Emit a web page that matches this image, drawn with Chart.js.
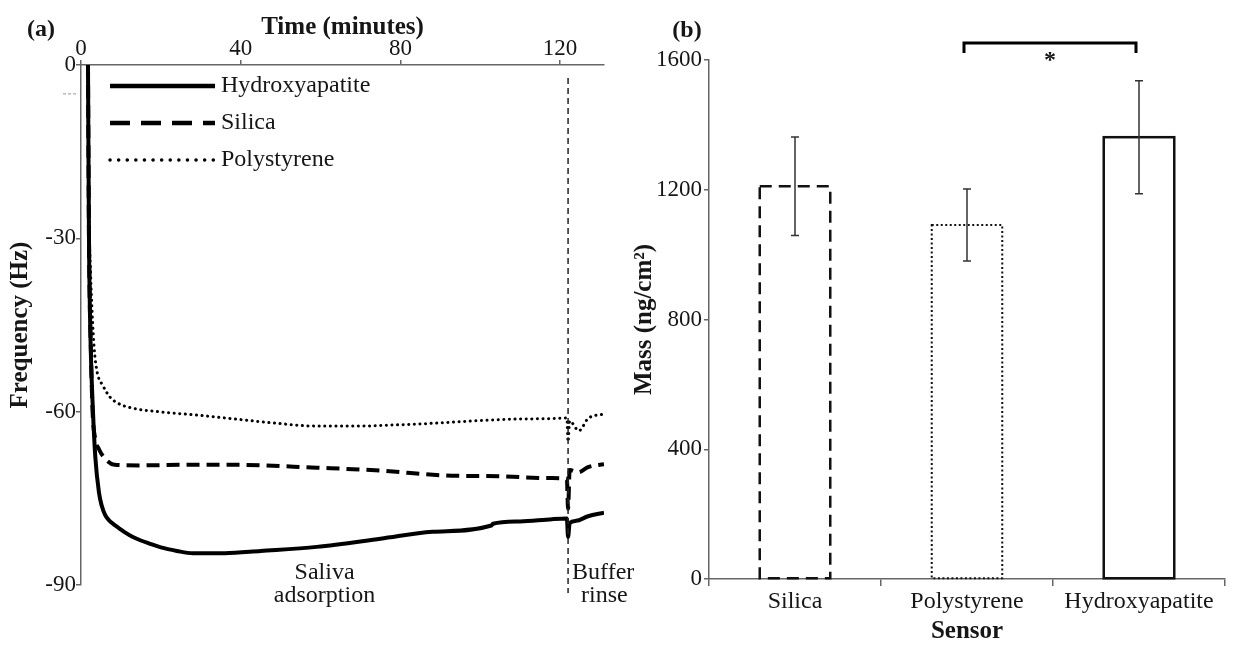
<!DOCTYPE html>
<html>
<head>
<meta charset="utf-8">
<script src="https://cdn.jsdelivr.net/npm/chart.js@4.4.1/dist/chart.umd.min.js"></script>
<style>
  body { margin: 0; background: #fff; }
  #wrap { position: relative; width: 1236px; height: 646px; overflow: hidden; }
  canvas { position: absolute; top: 0; }
  #freq { left: 0; width: 660px; height: 646px; }
  #mass { left: 620px; width: 616px; height: 646px; }
</style>
</head>
<body>
<div id="wrap">
  <canvas id="freq" width="660" height="646"></canvas>
  <canvas id="mass" width="616" height="646"></canvas>
</div>
<script>
// (a) frequency shift vs time (minutes, Hz)
const hydroxyTime = [1.75, 2.0, 2.4, 3.0, 3.6, 4.5, 5.2, 6, 7, 8.2, 9.4, 11, 13, 15, 17, 20, 24, 28, 36, 45, 59, 75, 88, 102.8, 103.2, 110, 118, 121.7, 122, 122.4, 124, 127, 131];
const hydroxyFreq = [0, -30, -48, -60, -68, -74, -76.3, -77.8, -78.8, -79.5, -80.1, -80.9, -81.7, -82.3, -82.8, -83.5, -84.1, -84.5, -84.5, -84.1, -83.4, -82, -80.8, -79.7, -79.4, -79, -78.6, -78.5, -81.7, -79.3, -78.9, -78.1, -77.5];

const silicaTime = [1.75, 2.0, 2.5, 2.9, 3.5, 4.5, 6.4, 8.4, 15, 25, 39, 59, 75, 90, 105, 118, 121.7, 122, 122.4, 124.5, 127, 131];
const silicaFreq = [0, -30, -50, -60, -64.5, -66.5, -68.4, -69.2, -69.3, -69.2, -69.2, -69.7, -70.2, -71, -71.2, -71.5, -71.6, -76.8, -70.1, -70.5, -69.6, -69.1];

const polyTime = [1.75, 2.0, 2.4, 2.8, 3.3, 4, 5.5, 7.3, 9.4, 13, 19.3, 29.2, 39, 48.9, 58.8, 68.7, 78.6, 88.4, 98.3, 108.2, 118, 121.7, 122, 122.4, 124.7, 127, 131];
const polyFreq = [0, -25, -36, -43, -49, -53, -55.5, -57.5, -58.6, -59.4, -60, -60.6, -61.3, -62, -62.5, -62.5, -62.3, -62, -61.6, -61.3, -61.2, -61.1, -65.2, -61.6, -63.3, -61.2, -60.4];

const rinseStart = 122;

// (b) adsorbed mass per sensor (ng/cm2), mean and error
const sensors = ['Silica', 'Polystyrene', 'Hydroxyapatite'];
const massMean = [1211, 1091, 1362];
const massErr = [152, 111, 174];

const serif = "'Liberation Serif', 'Times New Roman', serif";
Chart.defaults.font.family = serif;
Chart.defaults.color = '#161616';

const pts = (t, f) => t.map((x, i) => ({ x: x, y: f[i] }));

const axisLine = { color: '#666', width: 1.5 };
const tickGrid = (len) => ({ drawOnChartArea: false, tickLength: len, color: '#666', lineWidth: 1.5 });

// legend samples use a longer dash than the traces
const legendDash = [[], [20, 11], [0.1, 8.5]];

const freqExtras = {
  id: 'freqExtras',
  afterDraw(chart) {
    const { ctx, chartArea: a, scales: { x, y } } = chart;
    ctx.save();

    // start of buffer rinse
    const xr = x.getPixelForValue(rinseStart);
    ctx.strokeStyle = '#222';
    ctx.lineWidth = 1.5;
    ctx.setLineDash([6, 4]);
    ctx.beginPath();
    ctx.moveTo(xr, a.top + 13);
    ctx.lineTo(xr, a.bottom + 8);
    ctx.stroke();

    // small grey mark left of the axis
    const ym = y.getPixelForValue(-5);
    ctx.strokeStyle = '#999';
    ctx.lineWidth = 1;
    ctx.setLineDash([3, 2]);
    ctx.beginPath();
    ctx.moveTo(a.left - 18, ym);
    ctx.lineTo(a.left - 5, ym);
    ctx.stroke();
    ctx.setLineDash([]);

    // phase labels
    ctx.fillStyle = '#161616';
    ctx.font = '24px ' + serif;
    ctx.textBaseline = 'middle';
    ctx.textAlign = 'center';
    const xs = x.getPixelForValue(61);
    ctx.fillText('Saliva', xs, a.bottom - 12);
    ctx.fillText('adsorption', xs, a.bottom + 11);
    ctx.textAlign = 'left';
    ctx.fillText('Buffer', xr + 4, a.bottom - 12);
    ctx.fillText('rinse', xr + 13, a.bottom + 11);

    // legend
    chart.data.datasets.forEach((ds, i) => {
      const ly = a.top + 21 + i * 37;
      ctx.strokeStyle = ds.borderColor;
      ctx.lineWidth = ds.borderWidth + 0.5;
      ctx.lineCap = ds.borderCapStyle || 'butt';
      ctx.setLineDash(legendDash[i]);
      ctx.beginPath();
      ctx.moveTo(a.left + 29, ly);
      ctx.lineTo(a.left + 134, ly);
      ctx.stroke();
      ctx.fillText(ds.label, a.left + 140, ly);
    });

    ctx.font = 'bold 24px ' + serif;
    ctx.textAlign = 'center';
    ctx.fillText('(a)', 41, 30);
    ctx.restore();
  }
};

new Chart(document.getElementById('freq'), {
  type: 'line',
  data: {
    datasets: [
      { label: 'Hydroxyapatite', data: pts(hydroxyTime, hydroxyFreq), borderColor: '#000', borderWidth: 4 },
      { label: 'Silica', data: pts(silicaTime, silicaFreq), borderColor: '#000', borderWidth: 4, borderDash: [13, 7] },
      { label: 'Polystyrene', data: pts(polyTime, polyFreq), borderColor: '#000', borderWidth: 3, borderDash: [0.1, 5.5], borderCapStyle: 'round' }
    ]
  },
  options: {
    responsive: false,
    animation: false,
    devicePixelRatio: 1,
    layout: { padding: { left: 0, right: 56, top: 0, bottom: 61 } },
    elements: {
      point: { radius: 0 },
      line: { cubicInterpolationMode: 'monotone', fill: false }
    },
    plugins: { legend: { display: false }, tooltip: { enabled: false } },
    scales: {
      x: {
        type: 'linear',
        position: 'top',
        min: 0,
        max: 131,
        ticks: { stepSize: 40, includeBounds: false, padding: 0, font: { size: 23, lineHeight: 1 } },
        grid: tickGrid(5),
        border: axisLine,
        title: { display: true, text: 'Time (minutes)', font: { size: 25, weight: 'bold', lineHeight: 1 }, padding: { top: 15, bottom: 0 } },
        afterFit: (s) => { s.height = 65; }
      },
      y: {
        min: -90,
        max: 0,
        ticks: { stepSize: 30, padding: 0, font: { size: 23, lineHeight: 1 } },
        grid: tickGrid(5),
        border: axisLine,
        title: { display: true, text: 'Frequency (Hz)', font: { size: 25, weight: 'bold', lineHeight: 1 }, padding: { top: 8, bottom: 0 } },
        afterFit: (s) => { s.width = 81; }
      }
    }
  },
  plugins: [freqExtras]
});

// bar outlines: dashed, dotted, solid
const barDash = [[12, 7], [2, 2.5], []];
const barWidthPx = [2.5, 2, 2.5];

const massExtras = {
  id: 'massExtras',
  afterDatasetsDraw(chart) {
    const { ctx, chartArea: a, scales: { x, y } } = chart;
    const meta = chart.getDatasetMeta(0);
    ctx.save();
    meta.data.forEach((bar, i) => {
      const p = bar.getProps(['x', 'y', 'base', 'width'], true);
      ctx.strokeStyle = '#111';
      ctx.lineWidth = barWidthPx[i];
      ctx.setLineDash(barDash[i]);
      ctx.strokeRect(p.x - p.width / 2, p.y, p.width, p.base - p.y);

      // error bar
      const hi = y.getPixelForValue(massMean[i] + massErr[i]);
      const lo = y.getPixelForValue(massMean[i] - massErr[i]);
      ctx.setLineDash([]);
      ctx.strokeStyle = '#333';
      ctx.lineWidth = 1.5;
      ctx.beginPath();
      ctx.moveTo(p.x, hi); ctx.lineTo(p.x, lo);
      ctx.moveTo(p.x - 4, hi); ctx.lineTo(p.x + 4, hi);
      ctx.moveTo(p.x - 4, lo); ctx.lineTo(p.x + 4, lo);
      ctx.stroke();
    });

    // significance bracket between polystyrene and hydroxyapatite
    const x1 = x.getPixelForValue(1) - 3;
    const x2 = x.getPixelForValue(2) - 3;
    const yb = a.top - 17;
    ctx.strokeStyle = '#000';
    ctx.lineWidth = 3;
    ctx.beginPath();
    ctx.moveTo(x1, yb + 10);
    ctx.lineTo(x1, yb);
    ctx.lineTo(x2, yb);
    ctx.lineTo(x2, yb + 10);
    ctx.stroke();
    ctx.fillStyle = '#161616';
    ctx.font = 'bold 24px ' + serif;
    ctx.textAlign = 'center';
    ctx.textBaseline = 'alphabetic';
    ctx.fillText('*', (x1 + x2) / 2, yb + 24);

    ctx.textBaseline = 'middle';
    ctx.fillText('(b)', 67, 31);
    ctx.restore();
  }
};

new Chart(document.getElementById('mass'), {
  type: 'bar',
  data: {
    labels: sensors,
    datasets: [{ label: 'Mass', data: massMean, backgroundColor: 'rgba(0,0,0,0)', borderWidth: 0 }]
  },
  options: {
    responsive: false,
    animation: false,
    devicePixelRatio: 1,
    layout: { padding: { left: 0, right: 11, top: 60, bottom: 0 } },
    datasets: { bar: { categoryPercentage: 1, barPercentage: 0.41 } },
    plugins: { legend: { display: false }, tooltip: { enabled: false } },
    scales: {
      x: {
        ticks: { padding: 1, font: { size: 24 } },
        grid: Object.assign(tickGrid(7), { offset: true }),
        border: axisLine,
        title: { display: true, text: 'Sensor', font: { size: 25, weight: 'bold', lineHeight: 1 }, padding: { top: 0, bottom: 2 } },
        afterFit: (s) => { s.height = 67; }
      },
      y: {
        min: 0,
        max: 1600,
        ticks: { stepSize: 400, padding: 2, format: { useGrouping: false }, font: { size: 23, lineHeight: 1 } },
        grid: tickGrid(5),
        border: axisLine,
        title: { display: true, text: 'Mass (ng/cm²)', font: { size: 25, weight: 'bold', lineHeight: 1 }, padding: { top: 12, bottom: 0 } },
        afterFit: (s) => { s.width = 89; }
      }
    }
  },
  plugins: [massExtras]
});
</script>
</body>
</html>
